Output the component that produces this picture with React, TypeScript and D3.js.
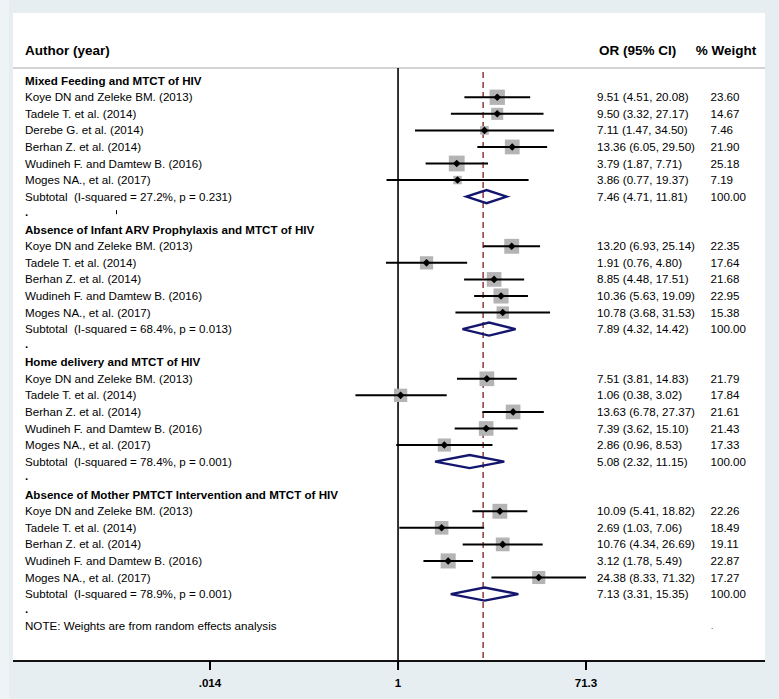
import React from "react";
import * as d3 from "d3";

const W = 779;
const H = 699;

const groupTitles = [
  "Mixed Feeding and MTCT of HIV",
  "Absence of Infant ARV Prophylaxis and MTCT of HIV",
  "Home delivery and MTCT of HIV",
  "Absence of Mother PMTCT Intervention and MTCT of HIV",
];

const g1Studies = ["Koye DN and Zeleke BM. (2013)", "Tadele T. et al. (2014)", "Derebe G. et al. (2014)", "Berhan Z. et al. (2014)", "Wudineh F. and Damtew B. (2016)", "Moges NA., et al. (2017)"];
const g1OR = [9.51, 9.5, 7.11, 13.36, 3.79, 3.86];
const g1Lo = [4.51, 3.32, 1.47, 6.05, 1.87, 0.77];
const g1Hi = [20.08, 27.17, 34.5, 29.5, 7.71, 19.37];
const g1W = [23.6, 14.67, 7.46, 21.9, 25.18, 7.19];
const g1ORText = ["9.51 (4.51, 20.08)", "9.50 (3.32, 27.17)", "7.11 (1.47, 34.50)", "13.36 (6.05, 29.50)", "3.79 (1.87, 7.71)", "3.86 (0.77, 19.37)"];
const g1WText = ["23.60", "14.67", "7.46", "21.90", "25.18", "7.19"];

const g2Studies = ["Koye DN and Zeleke BM. (2013)", "Tadele T. et al. (2014)", "Berhan Z. et al. (2014)", "Wudineh F. and Damtew B. (2016)", "Moges NA., et al. (2017)"];
const g2OR = [13.2, 1.91, 8.85, 10.36, 10.78];
const g2Lo = [6.93, 0.76, 4.48, 5.63, 3.68];
const g2Hi = [25.14, 4.8, 17.51, 19.09, 31.53];
const g2W = [22.35, 17.64, 21.68, 22.95, 15.38];
const g2ORText = ["13.20 (6.93, 25.14)", "1.91 (0.76, 4.80)", "8.85 (4.48, 17.51)", "10.36 (5.63, 19.09)", "10.78 (3.68, 31.53)"];
const g2WText = ["22.35", "17.64", "21.68", "22.95", "15.38"];

const g3Studies = ["Koye DN and Zeleke BM. (2013)", "Tadele T. et al. (2014)", "Berhan Z. et al. (2014)", "Wudineh F. and Damtew B. (2016)", "Moges NA., et al. (2017)"];
const g3OR = [7.51, 1.06, 13.63, 7.39, 2.86];
const g3Lo = [3.81, 0.38, 6.78, 3.62, 0.96];
const g3Hi = [14.83, 3.02, 27.37, 15.1, 8.53];
const g3W = [21.79, 17.84, 21.61, 21.43, 17.33];
const g3ORText = ["7.51 (3.81, 14.83)", "1.06 (0.38, 3.02)", "13.63 (6.78, 27.37)", "7.39 (3.62, 15.10)", "2.86 (0.96, 8.53)"];
const g3WText = ["21.79", "17.84", "21.61", "21.43", "17.33"];

const g4Studies = ["Koye DN and Zeleke BM. (2013)", "Tadele T. et al. (2014)", "Berhan Z. et al. (2014)", "Wudineh F. and Damtew B. (2016)", "Moges NA., et al. (2017)"];
const g4OR = [10.09, 2.69, 10.76, 3.12, 24.38];
const g4Lo = [5.41, 1.03, 4.34, 1.78, 8.33];
const g4Hi = [18.82, 7.06, 26.69, 5.49, 71.32];
const g4W = [22.26, 18.49, 19.11, 22.87, 17.27];
const g4ORText = ["10.09 (5.41, 18.82)", "2.69 (1.03, 7.06)", "10.76 (4.34, 26.69)", "3.12 (1.78, 5.49)", "24.38 (8.33, 71.32)"];
const g4WText = ["22.26", "18.49", "19.11", "22.87", "17.27"];

const subLabels = [
  "Subtotal  (I-squared = 27.2%, p = 0.231)",
  "Subtotal  (I-squared = 68.4%, p = 0.013)",
  "Subtotal  (I-squared = 78.4%, p = 0.001)",
  "Subtotal  (I-squared = 78.9%, p = 0.001)",
];
const subOR = [7.46, 7.89, 5.08, 7.13];
const subLo = [4.71, 4.32, 2.32, 3.31];
const subHi = [11.81, 14.42, 11.15, 15.35];
const subORText = ["7.46 (4.71, 11.81)", "7.89 (4.32, 14.42)", "5.08 (2.32, 11.15)", "7.13 (3.31, 15.35)"];
const subWText = ["100.00", "100.00", "100.00", "100.00"];

const refLineValue = 6.9;
const tickValues = [0.014, 1, 71.3];
const tickLabels = [".014", "1", "71.3"];
const noteText = "NOTE: Weights are from random effects analysis";

const groups = [
  { s: g1Studies, or: g1OR, lo: g1Lo, hi: g1Hi, w: g1W, ot: g1ORText, wt: g1WText },
  { s: g2Studies, or: g2OR, lo: g2Lo, hi: g2Hi, w: g2W, ot: g2ORText, wt: g2WText },
  { s: g3Studies, or: g3OR, lo: g3Lo, hi: g3Hi, w: g3W, ot: g3ORText, wt: g3WText },
  { s: g4Studies, or: g4OR, lo: g4Lo, hi: g4Hi, w: g4W, ot: g4ORText, wt: g4WText },
];

type Row =
  | { kind: "head"; text: string }
  | { kind: "study"; text: string; or: number; lo: number; hi: number; w: number; ot: string; wt: string }
  | { kind: "sub"; text: string; or: number; lo: number; hi: number; ot: string; wt: string }
  | { kind: "dot" }
  | { kind: "note"; text: string };

const rows: Row[] = [];
groups.forEach((g, gi) => {
  rows.push({ kind: "head", text: groupTitles[gi] });
  g.s.forEach((s, i) =>
    rows.push({ kind: "study", text: s, or: g.or[i], lo: g.lo[i], hi: g.hi[i], w: g.w[i], ot: g.ot[i], wt: g.wt[i] })
  );
  rows.push({ kind: "sub", text: subLabels[gi], or: subOR[gi], lo: subLo[gi], hi: subHi[gi], ot: subORText[gi], wt: subWText[gi] });
  rows.push({ kind: "dot" });
});
rows.push({ kind: "note", text: noteText });

export default function App() {
  const x = d3.scaleLog().domain([0.014, 71.3]).range([210, 586]);
  const rowY = (i: number) => 80.7 + 16.56 * i;
  const font = "'Liberation Sans', Arial, Helvetica, sans-serif";
  const fs = 11.6;
  const boxK = 3.15;
  const panelL = 13, panelR = 765, panelT = 13, axisY = 661, topLine = 68;
  const orX = 597, wX = 710.5, wHeadX = 695.7, labX = 25;

  return (
    <svg width={W} height={H} style={{ position: "absolute", left: 0, top: 0 }} fontFamily={font}>
      <rect x={0} y={0} width={W} height={H} fill="#e6eef2" />
      <rect x={0} y={0} width={9} height={H} fill="#eef3f6" />
      <rect x={panelL} y={panelT} width={panelR - panelL} height={axisY - panelT} fill="#ffffff" />
      <text x={labX} y={50} dy="0.35em" fontSize={13.5} fontWeight="bold" fill="#000">Author (year)</text>
      <text x={orX + 2} y={50} dy="0.35em" fontSize={13.5} fontWeight="bold" fill="#000">OR (95% CI)</text>
      <text x={wHeadX} y={50} dy="0.35em" fontSize={13.5} fontWeight="bold" fill="#000">% Weight</text>
      <line x1={panelL} x2={panelR} y1={topLine} y2={topLine} stroke="#c6c6c6" strokeWidth={1.5} />

      <line x1={x(1)} x2={x(1)} y1={topLine} y2={axisY} stroke="#000" strokeWidth={1.6} />
      <line x1={x(refLineValue)} x2={x(refLineValue)} y1={topLine + 4} y2={axisY} stroke="#8c2a2a" strokeWidth={1.4} strokeDasharray="6,4" />

      {rows.map((r, i) => {
        const y = rowY(i);
        if (r.kind === "head")
          return <text key={i} x={labX} y={y} dy="0.35em" fontSize={fs} fontWeight="bold">{r.text}</text>;
        if (r.kind === "dot")
          return <text key={i} x={labX} y={y} dy="0.2em" fontSize={fs} fontWeight="bold">.</text>;
        if (r.kind === "note")
          return (
            <g key={i}>
              <text x={labX} y={y - 1.5} dy="0.35em" fontSize={fs}>{r.text}</text>
              <text x={711} y={y} dy="0.2em" fontSize={8}>.</text>
            </g>
          );
        if (r.kind === "study") {
          const s = boxK * Math.sqrt(r.w);
          const cx = x(r.or);
          return (
            <g key={i}>
              <text x={labX} y={y} dy="0.35em" fontSize={fs}>{r.text}</text>
              <rect x={cx - s / 2} y={y - s / 2} width={s} height={s} fill="#b4b4b4" />
              <line x1={x(r.lo)} x2={x(r.hi)} y1={y} y2={y} stroke="#000" strokeWidth={2} />
              <path d={`M${cx - 3.8},${y} L${cx},${y - 3.8} L${cx + 3.8},${y} L${cx},${y + 3.8} Z`} fill="#000" />
              <text x={orX} y={y} dy="0.35em" fontSize={fs}>{r.ot}</text>
              <text x={wX} y={y} dy="0.35em" fontSize={fs}>{r.wt}</text>
            </g>
          );
        }
        const cx = x(r.or);
        return (
          <g key={i}>
            <text x={labX} y={y} dy="0.35em" fontSize={fs} style={{ whiteSpace: "pre" }}>{r.text}</text>
            <path
              d={`M${x(r.lo)},${y} L${cx},${y - 6.5} L${x(r.hi)},${y} L${cx},${y + 6.5} Z`}
              fill="none"
              stroke="#14166e"
              strokeWidth={2.4}
            />
            <text x={orX} y={y} dy="0.35em" fontSize={fs}>{r.ot}</text>
            <text x={wX} y={y} dy="0.35em" fontSize={fs}>{r.wt}</text>
          </g>
        );
      })}
      <line x1={116.5} x2={116.5} y1={rowY(8) - 3} y2={rowY(8) + 1} stroke="#000" strokeWidth={1} />

      <line x1={panelL} x2={panelR} y1={axisY} y2={axisY} stroke="#111" strokeWidth={2} />
      {tickValues.map((t, i) => (
        <g key={i}>
          <line x1={x(t)} x2={x(t)} y1={axisY} y2={axisY + 9} stroke="#000" strokeWidth={2} />
          <text x={x(t)} y={683} dy="0.35em" fontSize={11.6} fontWeight="bold" textAnchor="middle">{tickLabels[i]}</text>
        </g>
      ))}
    </svg>
  );
}
